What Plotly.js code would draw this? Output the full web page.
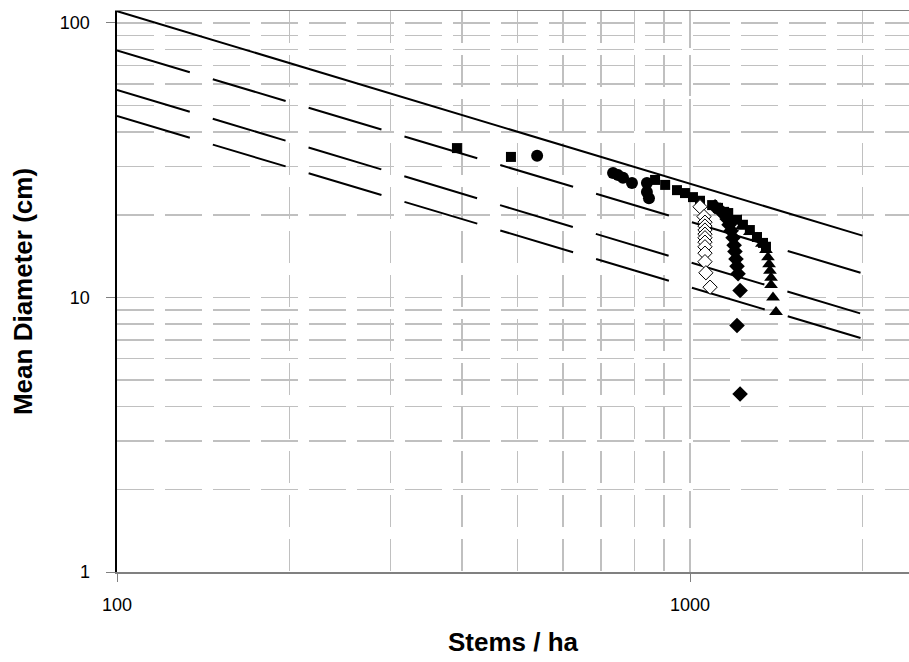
<!DOCTYPE html>
<html>
<head>
<meta charset="utf-8">
<script src="https://cdn.plot.ly/plotly-3.0.1.min.js"></script>
<style>html,body{margin:0;padding:0;background:#fff;}#chart{width:909px;height:662px;}</style>
</head>
<body>
<div id="chart"></div>
<script>
// Reference density lines (stems/ha at both ends, mean diameter in cm)
const lineStems = [100, 2000];
const line100 = [110.4, 16.8];
const line60 = [79.3, 12.25];
const line35 = [57.0, 8.7];
const line25 = [45.8, 7.08];

// Observed stands
const squareStems = [392, 487, 869, 905, 949, 980, 1012, 1041, 1093, 1119, 1147, 1166, 1208, 1237, 1272, 1309, 1341, 1357];
const squareDiam  = [35.0, 32.5, 26.8, 25.7, 24.6, 24.0, 23.2, 22.5, 21.7, 21.2, 20.5, 20.3, 19.2, 18.4, 17.6, 16.6, 15.8, 15.3];

const circleStems = [541, 734, 749, 764, 792, 841, 841, 848];
const circleDiam  = [32.8, 28.4, 27.9, 27.3, 26.1, 26.1, 24.2, 23.0];

const openDiamStems = [1041, 1058, 1062, 1062, 1062, 1062, 1062, 1062, 1062, 1062, 1062, 1066, 1084];
const openDiamDiam  = [21.4, 19.7, 18.8, 18.2, 17.6, 17.0, 16.5, 15.9, 15.3, 14.5, 13.5, 12.3, 10.9];

const diamondStems = [1106, 1128, 1147, 1161, 1170, 1180, 1189, 1194, 1198, 1203, 1208, 1213, 1223, 1208, 1223];
const diamondDiam  = [21.4, 20.8, 20.1, 19.3, 18.4, 17.5, 16.5, 15.5, 14.7, 13.8, 13.0, 12.2, 10.6, 7.9, 4.45];

const triStems = [1233, 1272, 1309, 1335, 1357, 1368, 1374, 1379, 1385, 1385, 1396, 1413];
const triDiam  = [18.2, 17.3, 16.5, 15.7, 14.9, 14.0, 13.2, 12.5, 11.8, 11.1, 10.0, 8.85];

// Axis ticks
const xMajor = [100, 1000];
const xMajorText = ['100', '1000'];
const xMinor = [200, 300, 400, 500, 600, 700, 800, 900, 1000, 2000];
const yMajor = [1, 10, 100];
const yMajorText = ['1', '10', '100'];
const yMinor = [2, 3, 4, 5, 6, 7, 8, 9, 10, 20, 30, 40, 50, 60, 70, 80, 90, 100];

const dashPat = '76px,24px';
function refLine(y, dash) {
  return {x: lineStems, y: y, mode: 'lines', type: 'scatter', hoverinfo: 'skip',
          line: {color: '#000', width: 2, dash: dash}};
}
function pts(x, y, sym, size, fill, lw) {
  return {x: x, y: y, mode: 'markers', type: 'scatter',
          marker: {symbol: sym, size: size, color: fill, line: {color: '#000', width: lw}}};
}

const data = [
  refLine(line100, 'solid'),
  refLine(line60, dashPat),
  refLine(line35, dashPat),
  refLine(line25, dashPat),
  pts(squareStems, squareDiam, 'square', 10, '#000', 0),
  pts(circleStems, circleDiam, 'circle', 12, '#000', 0),
  pts(openDiamStems, openDiamDiam, 'diamond', 11, '#fff', 1),
  pts(diamondStems, diamondDiam, 'diamond', 12, '#000', 0),
  pts(triStems, triDiam, 'triangle-up', 12, '#000', 0)
];

const font = 'Arial, "Liberation Sans", sans-serif';
const layout = {
  width: 909, height: 662,
  margin: {l: 117, r: 0, t: 11, b: 90},
  paper_bgcolor: '#fff', plot_bgcolor: '#fff',
  showlegend: false,
  font: {family: font, color: '#000', size: 18},
  xaxis: {
    type: 'log', range: [2, 3.3822], autorange: false,
    tickmode: 'array', tickvals: xMajor, ticktext: xMajorText,
    ticks: 'outside', ticklen: 8, tickwidth: 1, tickcolor: '#808080',
    ticklabelstandoff: 8,
    showgrid: true, gridcolor: '#c0c0c0', gridwidth: 1.5, griddash: '37px,11px',
    minor: {tickmode: 'array', tickvals: xMinor, showgrid: true, gridcolor: '#c0c0c0', gridwidth: 1.5, griddash: '32px,12px', ticks: ''},
    showline: true, linecolor: '#808080', linewidth: 1.5, mirror: true,
    zeroline: false,
    tickfont: {family: font, size: 18, color: '#000'},
    title: {text: '<b>Stems / ha</b>', font: {family: font, size: 26, color: '#000'}, standoff: 18}
  },
  yaxis: {
    type: 'log', range: [0, 2.0434], autorange: false,
    tickmode: 'array', tickvals: yMajor, ticktext: yMajorText,
    ticks: 'outside', ticklen: 9, tickwidth: 1, tickcolor: '#808080',
    ticklabelstandoff: 12,
    showgrid: true, gridcolor: '#c0c0c0', gridwidth: 1.5, griddash: '37px,11px',
    minor: {tickmode: 'array', tickvals: yMinor, showgrid: true, gridcolor: '#c0c0c0', gridwidth: 1.5, griddash: '37px,11px', ticks: ''},
    showline: true, linecolor: '#000', linewidth: 2.5,
    zeroline: false,
    tickfont: {family: font, size: 18, color: '#000'},
    title: {text: '<b>Mean Diameter (cm)</b>', font: {family: font, size: 26, color: '#000'}, standoff: 20}
  }
};

Plotly.newPlot('chart', data, layout, {staticPlot: true, displayModeBar: false});
</script>
</body>
</html>
